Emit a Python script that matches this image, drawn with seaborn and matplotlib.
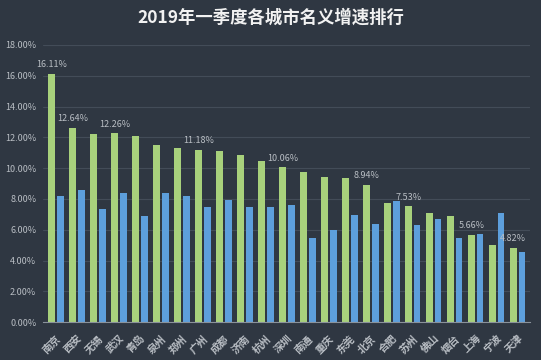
import matplotlib
matplotlib.use("Agg")
import matplotlib.pyplot as plt
import seaborn as sns
import pandas as pd
from matplotlib.ticker import FuncFormatter, MultipleLocator

# 城市和两组增速数据（单位：%）
cities = ['南京', '西安', '无锡', '武汉', '青岛', '泉州', '郑州', '广州', '成都', '济南',
          '杭州', '深圳', '南通', '重庆', '东莞', '北京', '合肥', '苏州', '佛山', '烟台',
          '上海', '宁波', '天津']
nominal = [16.11, 12.64, 12.22, 12.26, 12.07, 11.49, 11.33, 11.18, 11.14, 10.86,
           10.47, 10.06, 9.74, 9.44, 9.35, 8.94, 7.73, 7.53, 7.08, 6.91,
           5.66, 4.99, 4.82]
real = [8.20, 8.60, 7.36, 8.38, 6.90, 8.38, 8.20, 7.47, 7.95, 7.47,
        7.47, 7.60, 5.47, 6.00, 6.97, 6.39, 7.88, 6.28, 6.71, 5.47,
        5.72, 7.08, 4.53]
labeled = ['南京', '西安', '武汉', '广州', '深圳', '北京', '苏州', '上海', '天津']

bg = '#2f3742'
txt = '#b9bec4'

sns.set_theme(style='dark')
plt.rcParams['font.family'] = ['Noto Sans CJK SC', 'DejaVu Sans']

df = pd.DataFrame({
    '城市': cities * 2,
    '增速': nominal + real,
    '类型': ['名义增速'] * len(cities) + ['实际增速'] * len(cities),
})

fig = plt.figure(figsize=(5.41, 3.6), dpi=100, facecolor=bg)
ax = fig.add_axes([0.08, 0.105, 0.9, 0.77])
ax.set_facecolor(bg)

sns.barplot(data=df, x='城市', y='增速', hue='类型', order=cities,
            palette=['#a8d17c', '#5d9fdc'], width=0.84, gap=0.22,
            saturation=1, legend=False, linewidth=0, edgecolor='none', ax=ax)

ax.set_ylim(0, 18)
ax.set_xlim(-0.6, len(cities) - 0.4)
ax.yaxis.set_major_locator(MultipleLocator(2))
ax.yaxis.set_major_formatter(FuncFormatter(lambda v, p: f'{v:.2f}%'))
ax.grid(axis='y', color='#434c58', linewidth=0.8)
ax.grid(axis='x', visible=False)
ax.set_axisbelow(True)
ax.set_xlabel('')
ax.set_ylabel('')
for s in ['top', 'right', 'left']:
    ax.spines[s].set_visible(False)
ax.spines['bottom'].set_color('#8a929b')
ax.spines['bottom'].set_linewidth(0.8)

ax.tick_params(axis='y', colors=txt, labelsize=6.5, length=0, pad=5)
ax.tick_params(axis='x', colors=txt, labelsize=7.5, length=0, pad=8)
for lab in ax.get_xticklabels():
    lab.set_rotation(45)
    lab.set_ha('right')
    lab.set_va('top')
    lab.set_rotation_mode('anchor')
    lab.set_fontweight('bold')

# 名义增速数据标签
for bar, city, val in zip(ax.containers[0], cities, nominal):
    if city in labeled:
        ax.text(bar.get_x() + bar.get_width() / 2, val + 0.3, f'{val:.2f}%',
                ha='center', va='bottom', fontsize=6.5, color=txt)

fig.text(0.5, 0.95, '2019年一季度各城市名义增速排行', ha='center', va='center',
         fontsize=12.5, fontweight='bold', color='#f2f2f2')

fig.savefig('out.png', dpi=100, facecolor=bg)
